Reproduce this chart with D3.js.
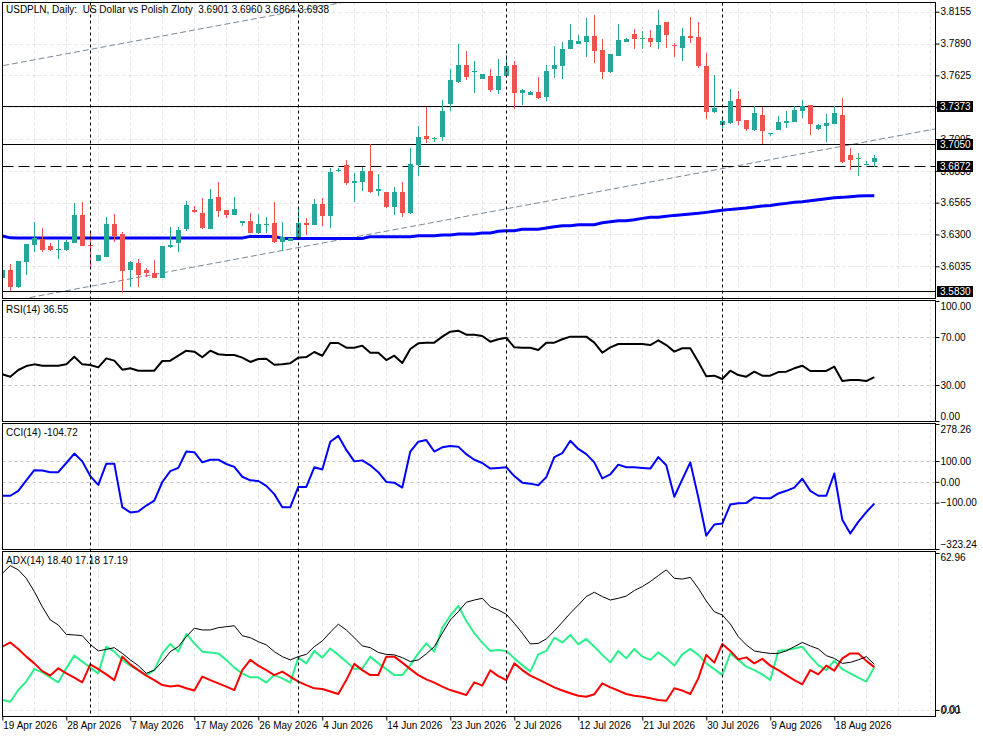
<!DOCTYPE html>
<html>
<head>
<meta charset="utf-8">
<script src="https://cdn.jsdelivr.net/npm/d3@7"></script>
<style>
  body { margin: 0; background: #fff; }
  svg { display: block; font-family: "Liberation Sans", Arial, sans-serif; font-size: 10px; }
</style>
</head>
<body>
<script>
// USDPLN daily, 110 bars
var open = [
3.5937, 3.6004, 3.5860, 3.6073, 3.6212, 3.6262, 3.6204, 3.6177, 3.6171, 3.6231,
3.6462, 3.6212, 3.6079, 3.6115, 3.6387, 3.6304, 3.6004, 3.6065, 3.6004, 3.5976,
3.5939, 3.6193, 3.6231, 3.6343, 3.6504, 3.6481, 3.6346, 3.6614, 3.6504, 3.6462,
3.6398, 3.6414, 3.6309, 3.6381, 3.6398, 3.6240, 3.6248, 3.6276, 3.6398, 3.6379,
3.6554, 3.6454, 3.6829, 3.6879, 3.6731, 3.6739, 3.6829, 3.6664, 3.6651, 3.6531,
3.6651, 3.6481, 3.6879, 3.7120, 3.7106, 3.7114, 3.7387, 3.7567, 3.7711, 3.7659,
3.7595, 3.7620, 3.7503, 3.7620, 3.7711, 3.7481, 3.7461, 3.7484, 3.7447, 3.7678,
3.7705, 3.7842, 3.7889, 3.7905, 3.7953, 3.7836, 3.7650, 3.7789, 3.7900, 3.7969,
3.7933, 3.7933, 3.7905, 3.8072, 3.7878, 3.7855, 3.7953, 3.7942, 3.7703, 3.7322,
3.7212, 3.7226, 3.7428, 3.7253, 3.7170, 3.7295, 3.7134, 3.7170, 3.7231, 3.7239,
3.7331, 3.7378, 3.7175, 3.7206, 3.7220, 3.7295, 3.6962, 3.6939, 3.6884, 3.6901
];
var high = [
3.6021, 3.6051, 3.6079, 3.6221, 3.6406, 3.6351, 3.6231, 3.6254, 3.6254, 3.6559,
3.6568, 3.6323, 3.6129, 3.6443, 3.6468, 3.6323, 3.6079, 3.6096, 3.6023, 3.6087,
3.6204, 3.6360, 3.6360, 3.6579, 3.6537, 3.6606, 3.6679, 3.6739, 3.6504, 3.6609,
3.6414, 3.6476, 3.6470, 3.6448, 3.6573, 3.6406, 3.6268, 3.6531, 3.6434, 3.6596,
3.6601, 3.6851, 3.6851, 3.6920, 3.6814, 3.6864, 3.7051, 3.6804, 3.6651, 3.6698,
3.6739, 3.7023, 3.7203, 3.7364, 3.7114, 3.7420, 3.7676, 3.7886, 3.7828, 3.7744,
3.7636, 3.7678, 3.7761, 3.7795, 3.7744, 3.7509, 3.7497, 3.7609, 3.7711, 3.7872,
3.7905, 3.8053, 3.7961, 3.8105, 3.8128, 3.7925, 3.7803, 3.8053, 3.7933, 3.8011,
3.7994, 3.8003, 3.8169, 3.8072, 3.7892, 3.8017, 3.8113, 3.8072, 3.7809, 3.7628,
3.7267, 3.7511, 3.7495, 3.7253, 3.7370, 3.7359, 3.7148, 3.7287, 3.7328, 3.7370,
3.7420, 3.7378, 3.7220, 3.7300, 3.7370, 3.7439, 3.7023, 3.6976, 3.6911, 3.6960
];
var low = [
3.5921, 3.5831, 3.5851, 3.5962, 3.6156, 3.6156, 3.6165, 3.6098, 3.6165, 3.6226,
3.6204, 3.6018, 3.6079, 3.6115, 3.6240, 3.5815, 3.5860, 3.5860, 3.5948, 3.5934,
3.5939, 3.6184, 3.6156, 3.6331, 3.6481, 3.6346, 3.6346, 3.6448, 3.6440, 3.6462,
3.6370, 3.6309, 3.6304, 3.6309, 3.6231, 3.6162, 3.6248, 3.6276, 3.6296, 3.6379,
3.6370, 3.6351, 3.6823, 3.6712, 3.6573, 3.6664, 3.6648, 3.6623, 3.6523, 3.6462,
3.6448, 3.6468, 3.6789, 3.7064, 3.7073, 3.7081, 3.7331, 3.7564, 3.7586, 3.7481,
3.7595, 3.7489, 3.7470, 3.7620, 3.7345, 3.7378, 3.7461, 3.7428, 3.7414, 3.7600,
3.7595, 3.7842, 3.7889, 3.7780, 3.7725, 3.7595, 3.7642, 3.7789, 3.7900, 3.7844,
3.7844, 3.7864, 3.7844, 3.7850, 3.7780, 3.7747, 3.7897, 3.7684, 3.7262, 3.7309,
3.7184, 3.7217, 3.7212, 3.7164, 3.7164, 3.7053, 3.7120, 3.7170, 3.7189, 3.7234,
3.7272, 3.7128, 3.7170, 3.7073, 3.7220, 3.6893, 3.6837, 3.6789, 3.6878, 3.6864
];
var close = [
3.6004, 3.5860, 3.6079, 3.6221, 3.6268, 3.6171, 3.6171, 3.6179, 3.6240, 3.6462,
3.6204, 3.6210, 3.6129, 3.6387, 3.6288, 3.5998, 3.6068, 3.5962, 3.5976, 3.5934,
3.6204, 3.6212, 3.6337, 3.6546, 3.6487, 3.6351, 3.6596, 3.6498, 3.6462, 3.6512,
3.6414, 3.6309, 3.6387, 3.6384, 3.6240, 3.6282, 3.6268, 3.6398, 3.6379, 3.6554,
3.6454, 3.6823, 3.6834, 3.6731, 3.6745, 3.6829, 3.6656, 3.6679, 3.6531, 3.6651,
3.6481, 3.6887, 3.7114, 3.7092, 3.7106, 3.7328, 3.7586, 3.7711, 3.7614, 3.7661,
3.7636, 3.7503, 3.7620, 3.7703, 3.7481, 3.7503, 3.7489, 3.7439, 3.7661, 3.7711,
3.7842, 3.7919, 3.7911, 3.7953, 3.7830, 3.7655, 3.7803, 3.7919, 3.7928, 3.7928,
3.7933, 3.7905, 3.8044, 3.7961, 3.7867, 3.7953, 3.7939, 3.7705, 3.7322, 3.7356,
3.7245, 3.7411, 3.7248, 3.7178, 3.7309, 3.7164, 3.7148, 3.7234, 3.7245, 3.7337,
3.7372, 3.7220, 3.7212, 3.7226, 3.7309, 3.6901, 3.6920, 3.6939, 3.6887, 3.6938
];
// moving average (blue)
var ma = [
3.6287, 3.6272, 3.6270, 3.6270, 3.6270, 3.6270, 3.6270, 3.6270, 3.6270, 3.6270,
3.6270, 3.6270, 3.6270, 3.6270, 3.6270, 3.6270, 3.6270, 3.6270, 3.6270, 3.6270,
3.6270, 3.6270, 3.6270, 3.6270, 3.6270, 3.6270, 3.6270, 3.6270, 3.6270, 3.6270,
3.6270, 3.6284, 3.6284, 3.6284, 3.6284, 3.6266, 3.6266, 3.6266, 3.6266, 3.6266,
3.6266, 3.6266, 3.6266, 3.6266, 3.6266, 3.6266, 3.6282, 3.6282, 3.6282, 3.6282,
3.6282, 3.6282, 3.6290, 3.6290, 3.6290, 3.6296, 3.6296, 3.6304, 3.6304, 3.6304,
3.6312, 3.6312, 3.6326, 3.6331, 3.6331, 3.6343, 3.6343, 3.6343, 3.6354, 3.6365,
3.6373, 3.6373, 3.6381, 3.6381, 3.6381, 3.6398, 3.6406, 3.6414, 3.6414, 3.6423,
3.6434, 3.6443, 3.6443, 3.6451, 3.6459, 3.6464, 3.6470, 3.6476, 3.6484, 3.6493,
3.6501, 3.6509, 3.6514, 3.6520, 3.6528, 3.6537, 3.6542, 3.6551, 3.6559, 3.6568,
3.6573, 3.6581, 3.6589, 3.6598, 3.6606, 3.6609, 3.6614, 3.6620, 3.6623, 3.6623
];
var rsi = [
38.9, 36.9, 42.5, 45.8, 47.2, 46.1, 46.1, 46.1, 47.2, 53.6,
47.2, 46.7, 44.7, 52.2, 50.3, 42.8, 43.9, 41.9, 41.9, 41.9,
50.0, 50.3, 54.4, 58.6, 57.8, 53.1, 58.6, 55.6, 55.0, 55.0,
52.8, 49.2, 51.7, 51.9, 46.9, 47.2, 48.1, 52.8, 53.3, 57.5,
54.4, 65.0, 65.0, 61.1, 61.1, 62.8, 56.9, 56.9, 50.8, 54.4,
48.3, 60.0, 64.7, 65.3, 65.3, 70.3, 74.4, 75.3, 71.9, 71.9,
70.8, 66.1, 68.1, 69.4, 61.4, 61.1, 61.1, 59.2, 65.3, 65.3,
68.1, 70.3, 70.3, 70.3, 65.3, 56.9, 61.4, 64.2, 64.2, 64.2,
64.2, 63.3, 67.2, 63.3, 57.8, 60.6, 60.6, 49.4, 37.2, 37.8,
35.0, 41.9, 38.3, 36.9, 41.1, 37.8, 37.8, 40.8, 41.1, 43.9,
46.1, 41.7, 41.7, 41.7, 45.3, 33.3, 34.2, 34.2, 33.3, 36.55
];
var cci = [
-66.9, -66.9, -43.3, 7.1, 55.9, 54.3, 46.5, 46.5, 90.6, 136.2,
98.4, 27.6, -14.9, 87.4, 87.4, -122.1, -147.3, -142.5, -114.2, -90.6,
-0.8, 51.2, 66.9, 145.7, 142.5, 93.7, 106.3, 106.3, 85.8, 71.7,
24.4, 7.1, 3.9, -19.7, -59.1, -122.1, -122.1, -24.4, -24.4, 70.1,
59.1, 192.9, 221.3, 153.6, 98.4, 103.2, 79.5, 46.5, -0.8, -3.9,
-27.6, 145.7, 192.9, 200.8, 145.7, 166.2, 172.5, 169.3, 133.1, 106.3,
90.6, 63.8, 66.9, 70.1, 27.6, -3.9, -8.7, -16.5, 22.8, 118.9,
137.8, 197.7, 158.3, 133.1, 93.7, 16.5, 35.4, 82.7, 70.1, 70.1,
66.9, 63.8, 118.9, 79.5, -71.7, 11.8, 93.7, -74.8, -259.1, -205.5,
-200.8, -109.5, -103.2, -101.6, -74.8, -79.5, -79.5, -55.9, -43.3, -27.6,
15.0, -43.3, -66.9, -66.9, 40.2, -181.9, -248.1, -192.9, -145.7, -104.72
];
var adx = [
54.8, 57.9, 56.2, 52.8, 47.5, 41.4, 36.1, 34.1, 30.3, 30.1,
29.8, 26.3, 23.7, 24.3, 25.0, 22.7, 20.1, 17.8, 14.7, 16.0,
19.4, 23.4, 25.4, 29.4, 32.8, 32.1, 32.1, 33.0, 33.4, 33.8,
29.8, 29.0, 27.4, 26.1, 23.4, 21.4, 20.1, 21.4, 22.3, 25.4,
27.7, 31.2, 34.4, 32.1, 29.0, 25.7, 25.0, 23.1, 22.3, 22.1,
21.0, 19.4, 20.1, 22.5, 25.4, 30.8, 36.1, 39.4, 43.2, 44.1,
44.8, 41.4, 40.1, 38.4, 34.8, 30.8, 26.5, 26.7, 28.5, 31.7,
35.2, 38.8, 42.1, 45.5, 47.2, 45.5, 44.1, 44.8, 45.7, 47.9,
49.5, 51.5, 53.9, 56.2, 52.8, 52.5, 53.2, 48.8, 43.7, 39.4,
38.1, 34.5, 29.4, 26.1, 23.7, 23.1, 22.7, 22.7, 23.7, 25.4,
27.1, 25.7, 24.5, 21.8, 20.7, 18.7, 19.1, 20.1, 21.4, 18.40
];
var plusDi = [
4.0, 3.3, 8.0, 11.4, 16.4, 15.1, 13.1, 11.1, 16.7, 21.8,
19.4, 17.0, 14.7, 25.4, 23.4, 20.1, 17.8, 16.0, 14.0, 16.0,
22.7, 26.5, 23.4, 30.5, 26.7, 23.4, 23.1, 22.7, 20.1, 17.0,
14.7, 13.1, 13.1, 11.0, 14.0, 12.7, 11.0, 21.0, 18.7, 23.7,
21.0, 24.7, 22.1, 19.4, 16.4, 16.7, 21.4, 18.7, 16.4, 14.0,
14.0, 18.0, 22.7, 26.7, 23.4, 33.0, 37.8, 41.8, 35.7, 30.8,
27.0, 23.7, 24.1, 23.7, 20.7, 18.0, 15.4, 22.3, 23.7, 29.0,
27.1, 30.1, 26.3, 28.5, 25.4, 22.1, 19.1, 23.7, 20.7, 24.5,
21.4, 20.1, 23.1, 20.7, 17.8, 22.3, 24.5, 22.1, 18.7, 16.4,
14.0, 22.7, 20.1, 17.4, 16.0, 14.3, 12.0, 23.7, 24.1, 24.7,
25.4, 21.4, 18.0, 16.0, 19.8, 16.4, 14.7, 13.0, 11.4, 17.18
];
var minusDi = [
25.4, 27.1, 24.5, 21.4, 18.7, 15.6, 13.8, 16.7, 14.7, 13.0,
11.1, 18.3, 16.4, 14.3, 12.0, 21.4, 18.3, 16.0, 13.8, 12.0,
10.0, 9.4, 9.8, 8.7, 7.8, 13.4, 12.0, 10.7, 9.4, 8.0,
16.0, 20.1, 17.8, 16.0, 14.0, 15.4, 13.4, 11.4, 10.0, 8.7,
8.4, 7.4, 6.4, 12.0, 18.5, 16.0, 14.0, 14.0, 21.4, 21.4,
19.0, 16.4, 14.0, 12.3, 11.0, 9.4, 8.0, 7.0, 6.0, 11.1,
9.8, 15.9, 13.6, 12.0, 18.7, 16.0, 13.8, 12.3, 10.7, 9.1,
7.8, 6.7, 5.7, 5.3, 6.3, 10.7, 9.1, 7.8, 6.4, 5.7,
5.3, 4.7, 4.0, 3.7, 8.7, 7.8, 6.4, 12.7, 22.1, 19.0,
26.5, 23.7, 20.3, 21.1, 18.7, 20.5, 17.8, 16.0, 14.0, 12.0,
10.3, 16.0, 14.3, 17.8, 15.8, 20.7, 22.7, 22.7, 19.7, 17.19
];

// date labels every 8 bars
var dateLabels = ["19 Apr 2026", "28 Apr 2026", "7 May 2026", "17 May 2026", "26 May 2026",
  "4 Jun 2026", "14 Jun 2026", "23 Jun 2026", "2 Jul 2026", "12 Jul 2026",
  "21 Jul 2026", "30 Jul 2026", "9 Aug 2026", "18 Aug 2026"];
var dateBars = [0, 8, 16, 24, 32, 40, 48, 56, 64, 72, 80, 88, 96, 104];

var priceTicks = [3.8155, 3.7890, 3.7625, 3.7360, 3.7095, 3.6830, 3.6565, 3.6300, 3.6035];
var solidLevels = [3.7373, 3.7050, 3.5830];
var dashedLevels = [3.6872];
var separatorBars = [11, 37, 63, 90];
// trend channel: prices at bar 0 and bar 110
var channelBars = [0, 110];
var channelLower = [3.5732, 3.7097];
var channelUpper = [3.7705, 3.9069];

var rsiTicks = [100, 70, 30, 0];
var rsiLevels = [70, 30];
var cciTicks = [278.26, 100, 0, -100, -323.24];
var cciLevels = [100, 0, -100];
var adxTicks = [62.96, 0];

var title = "USDPLN, Daily:  US Dollar vs Polish Zloty  3.6901 3.6960 3.6864 3.6938";

// ---------------------------------------------------------------
var width = 983, height = 737;
var left = 2.5, right = 935.5;

var svg = d3.select("body").append("svg")
    .attr("width", width)
    .attr("height", height);

var x = d3.scaleLinear().domain([0, 109]).range([2.3, 874.3]);

var panes = [
  {id: "main", top: 2.5, bottom: 298.5, y: d3.scaleLinear().domain([3.5771, 3.8236]).range([298, 2])},
  {id: "rsi", top: 300.5, bottom: 421.5, y: d3.scaleLinear().domain([0, 100]).range([421, 301])},
  {id: "cci", top: 423.5, bottom: 549.5, y: d3.scaleLinear().domain([-323.24, 278.26]).range([549, 424])},
  {id: "adx", top: 551.5, bottom: 716.5, y: d3.scaleLinear().domain([0, 62.96]).range([710, 553])}
];
var pMain = panes[0], pRsi = panes[1], pCci = panes[2], pAdx = panes[3];

var defs = svg.append("defs");
panes.forEach(function(p) {
  defs.append("clipPath").attr("id", "clip-" + p.id)
    .append("rect")
      .attr("x", left).attr("y", p.top)
      .attr("width", right - left).attr("height", p.bottom - p.top);
});

function paneGroup(p) {
  return svg.append("g").attr("clip-path", "url(#clip-" + p.id + ")");
}

// vertical grid every 4 bars
var gridBars = d3.range(0, 117, 4);
panes.forEach(function(p) {
  var g = paneGroup(p);
  g.selectAll("line.vgrid").data(gridBars).enter().append("line")
      .attr("x1", function(d) { return Math.floor(x(d)) + 0.5; })
      .attr("x2", function(d) { return Math.floor(x(d)) + 0.5; })
      .attr("y1", p.top).attr("y2", p.bottom)
      .attr("stroke", "#e3e3e3")
      .attr("stroke-dasharray", "3,3");
});

// horizontal grid
function hGrid(p, values, color) {
  var g = paneGroup(p);
  g.selectAll("line").data(values).enter().append("line")
      .attr("x1", left).attr("x2", right)
      .attr("y1", function(d) { return Math.round(p.y(d)) + 0.5; })
      .attr("y2", function(d) { return Math.round(p.y(d)) + 0.5; })
      .attr("stroke", color)
      .attr("stroke-dasharray", "3,3");
}
hGrid(pMain, priceTicks, "#e3e3e3");
hGrid(pRsi, rsiLevels, "#c4c4c4");
hGrid(pCci, cciLevels, "#c4c4c4");
hGrid(pAdx, [0], "#e3e3e3");

// ---------------- main pane ----------------
var gm = paneGroup(pMain);

// trend channel
var lowerAt = d3.scaleLinear().domain(channelBars).range(channelLower);
var upperAt = d3.scaleLinear().domain(channelBars).range(channelUpper);
[lowerAt, upperAt].forEach(function(f) {
  gm.append("line")
      .attr("x1", x(-1)).attr("x2", x(118))
      .attr("y1", pMain.y(f(-1))).attr("y2", pMain.y(f(118)))
      .attr("stroke", "#7b8896")
      .attr("stroke-width", 1)
      .attr("stroke-dasharray", "6,3");
});

// horizontal levels
gm.selectAll("line.level").data(solidLevels).enter().append("line")
    .attr("x1", left).attr("x2", right)
    .attr("y1", function(d) { return Math.round(pMain.y(d)) + 0.5; })
    .attr("y2", function(d) { return Math.round(pMain.y(d)) + 0.5; })
    .attr("stroke", "#000");
gm.selectAll("line.dlevel").data(dashedLevels).enter().append("line")
    .attr("x1", left).attr("x2", right)
    .attr("y1", function(d) { return Math.round(pMain.y(d)) + 0.5; })
    .attr("y2", function(d) { return Math.round(pMain.y(d)) + 0.5; })
    .attr("stroke", "#000")
    .attr("stroke-dasharray", "11,5");

// moving average
var maLine = d3.line()
    .x(function(d, i) { return x(i); })
    .y(function(d) { return pMain.y(d); });
gm.append("path")
    .datum(ma)
    .attr("d", maLine)
    .attr("fill", "none")
    .attr("stroke", "#0000ff")
    .attr("stroke-width", 3);

// candles
var bars = d3.range(open.length);
function candleColor(i) {
  if (close[i] > open[i]) return "#26a69a";
  if (close[i] < open[i]) return "#ef5350";
  return "#3cb371";
}
var candle = gm.selectAll("g.candle").data(bars).enter().append("g")
    .attr("shape-rendering", "crispEdges");
candle.append("line")
    .attr("x1", function(i) { return Math.floor(x(i)) + 0.5; })
    .attr("x2", function(i) { return Math.floor(x(i)) + 0.5; })
    .attr("y1", function(i) { return pMain.y(high[i]); })
    .attr("y2", function(i) { return pMain.y(low[i]); })
    .attr("stroke", candleColor);
candle.append("rect")
    .attr("x", function(i) { return Math.floor(x(i)) - 2; })
    .attr("width", 5)
    .attr("y", function(i) { return pMain.y(Math.max(open[i], close[i])); })
    .attr("height", function(i) {
      return Math.max(1, pMain.y(Math.min(open[i], close[i])) - pMain.y(Math.max(open[i], close[i])));
    })
    .attr("fill", candleColor);

// ---------------- indicators ----------------
function drawSeries(p, values, color, w) {
  var line = d3.line()
      .x(function(d, i) { return x(i); })
      .y(function(d) { return p.y(d); });
  paneGroup(p).append("path")
      .datum(values)
      .attr("d", line)
      .attr("fill", "none")
      .attr("stroke", color)
      .attr("stroke-width", w)
      .attr("stroke-linejoin", "round");
}
drawSeries(pRsi, rsi, "#000", 2);
drawSeries(pCci, cci, "#0000ff", 2);
drawSeries(pAdx, plusDi, "#2cf08c", 2);
drawSeries(pAdx, minusDi, "#ff0000", 2);
drawSeries(pAdx, adx, "#000", 1);

// separators through all panes
svg.append("g").selectAll("line").data(separatorBars).enter().append("line")
    .attr("x1", function(d) { return Math.floor(x(d)) + 0.5; })
    .attr("x2", function(d) { return Math.floor(x(d)) + 0.5; })
    .attr("y1", 2.5).attr("y2", 716)
    .attr("stroke", "#000")
    .attr("stroke-dasharray", "3,3");

// pane frames
panes.forEach(function(p) {
  svg.append("rect")
      .attr("x", left).attr("y", p.top)
      .attr("width", right - left).attr("height", p.bottom - p.top)
      .attr("fill", "none")
      .attr("stroke", "#000");
});

// ---------------- axes ----------------
function rightAxis(p, ticks, fmt) {
  var g = svg.append("g")
      .attr("transform", "translate(" + right + ",0)")
      .call(d3.axisRight(p.y).tickValues(ticks).tickSize(4).tickPadding(1).tickFormat(fmt));
  g.select(".domain").remove();
  g.attr("font-family", null).attr("font-size", null);
  g.selectAll("text").attr("fill", "#000")
      .attr("y", function(d) {
        var yy = p.y(d), lo = p.top + 5.5, hi = p.bottom - 5.5;
        return Math.min(hi, Math.max(lo, yy)) - yy;
      });
  return g;
}
rightAxis(pMain, priceTicks, d3.format(".4f"));
rightAxis(pRsi, rsiTicks, d3.format(".2f"));
rightAxis(pCci, cciTicks, d3.format(".2f"));
var ax = rightAxis(pAdx, adxTicks, d3.format(".2f"));
// the overlapping minimum label
ax.append("text")
    .attr("x", 6).attr("y", pAdx.y(0)).attr("dy", "0.32em")
    .attr("fill", "#000")
    .text("0.01");

// black value boxes for the levels
var boxes = svg.append("g").selectAll("g").data(solidLevels.concat(dashedLevels)).enter().append("g");
boxes.append("rect")
    .attr("x", 937).attr("width", 36)
    .attr("y", function(d) { return Math.round(pMain.y(d)) - 5; })
    .attr("height", 11)
    .attr("fill", "#000");
boxes.append("text")
    .attr("x", 940)
    .attr("y", function(d) { return Math.round(pMain.y(d)) + 0.5; })
    .attr("dy", "0.35em")
    .attr("fill", "#fff")
    .text(function(d) { return d3.format(".4f")(d); });

// time axis
var xa = svg.append("g")
    .attr("transform", "translate(0," + pAdx.bottom + ")")
    .call(d3.axisBottom(x).tickValues(dateBars).tickSize(4).tickPadding(1.4)
      .tickFormat(function(d, i) { return dateLabels[i]; }));
xa.select(".domain").remove();
xa.attr("font-family", null).attr("font-size", null);
xa.selectAll("text").attr("text-anchor", "start").attr("dx", 0.5).attr("fill", "#000");

// pane titles
var titles = [
  {p: pMain, y: 13, t: title},
  {p: pRsi, y: 313, t: "RSI(14) 36.55"},
  {p: pCci, y: 436, t: "CCI(14) -104.72"},
  {p: pAdx, y: 564, t: "ADX(14) 18.40 17.18 17.19"}
];
svg.append("g").selectAll("text").data(titles).enter().append("text")
    .attr("x", 6).attr("y", function(d) { return d.y; })
    .attr("xml:space", "preserve")
    .style("white-space", "pre")
    .attr("fill", "#000")
    .text(function(d) { return d.t; });
</script>
</body>
</html>
